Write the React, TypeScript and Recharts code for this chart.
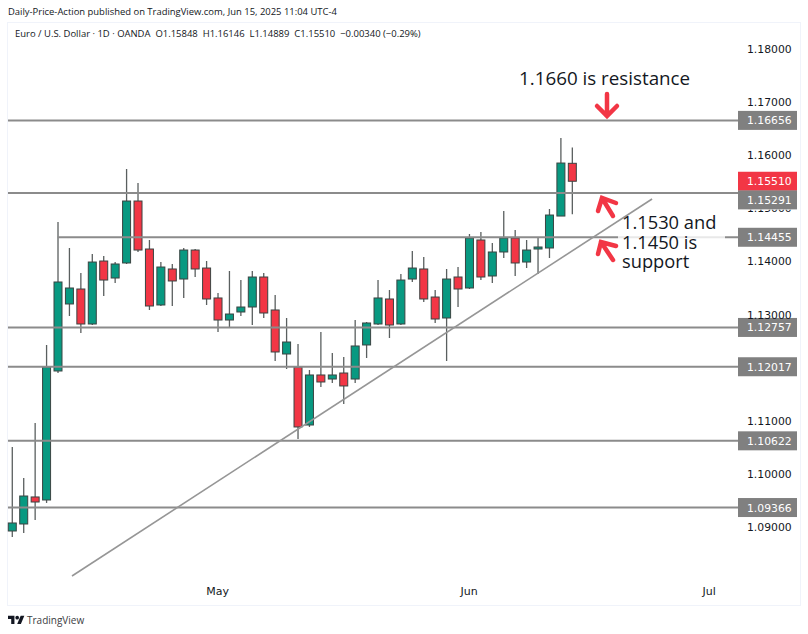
import { ComposedChart, Bar, XAxis, YAxis, ReferenceLine } from 'recharts';

const opens = [1.08924, 1.09056, 1.09565, 1.09508, 1.11937, 1.13199, 1.13481, 1.12822, 1.14008, 1.13688, 1.13971, 1.15138, 1.14234, 1.1318, 1.13858, 1.13669, 1.14215, 1.13876, 1.13312, 1.12897, 1.13048, 1.13142, 1.13707, 1.13086, 1.12257, 1.12012, 1.1092, 1.11862, 1.11786, 1.11899, 1.11786, 1.12427, 1.12822, 1.13293, 1.12822, 1.13669, 1.13858, 1.1333, 1.12935, 1.13707, 1.135, 1.14404, 1.13726, 1.14178, 1.14441, 1.13989, 1.14234, 1.14253, 1.14855, 1.15848];
const highs = [1.10506, 1.09922, 1.10958, 1.12427, 1.14743, 1.14253, 1.13782, 1.1414, 1.14102, 1.13989, 1.15741, 1.15477, 1.14404, 1.13989, 1.13952, 1.14253, 1.14234, 1.14008, 1.13406, 1.1382, 1.1365, 1.1382, 1.13782, 1.13368, 1.12935, 1.12445, 1.11956, 1.12671, 1.12276, 1.12201, 1.12897, 1.1286, 1.1365, 1.13462, 1.13763, 1.14197, 1.14084, 1.13462, 1.13858, 1.13895, 1.14517, 1.14554, 1.14347, 1.1495, 1.14592, 1.14404, 1.1446, 1.14987, 1.16324, 1.16146];
const lows = [1.08811, 1.08887, 1.09132, 1.09452, 1.11899, 1.12973, 1.12653, 1.12803, 1.13349, 1.13594, 1.13952, 1.14178, 1.13086, 1.13161, 1.13161, 1.13312, 1.13707, 1.1318, 1.12671, 1.12766, 1.12973, 1.12803, 1.12935, 1.12125, 1.11975, 1.10657, 1.10883, 1.11636, 1.11711, 1.11316, 1.11711, 1.12182, 1.12803, 1.12558, 1.12803, 1.13613, 1.13236, 1.12841, 1.12125, 1.13142, 1.13481, 1.1365, 1.13594, 1.14065, 1.13726, 1.13876, 1.13763, 1.14065, 1.14855, 1.14889];
const closes = [1.09075, 1.09583, 1.0947, 1.12012, 1.13613, 1.135, 1.12822, 1.13989, 1.1365, 1.13952, 1.15138, 1.14215, 1.13161, 1.13895, 1.13632, 1.14215, 1.13858, 1.13293, 1.12897, 1.1301, 1.13142, 1.13707, 1.13029, 1.12295, 1.12483, 1.10883, 1.11862, 1.1173, 1.11862, 1.11655, 1.12408, 1.12841, 1.13312, 1.12803, 1.1365, 1.13876, 1.13293, 1.12916, 1.13669, 1.13481, 1.14441, 1.13707, 1.14178, 1.14441, 1.13971, 1.14215, 1.14272, 1.14874, 1.15853, 1.1551];

// 1.12 sits fully behind its price tag in the picture, so it is left out
const priceTicks = [1.09, 1.1, 1.11, 1.13, 1.14, 1.15, 1.16, 1.17, 1.18];
const monthTicks = [18, 40, 61];
const monthLabels = ['May', 'Jun', 'Jul'];
const levels = [1.16656, 1.12757, 1.12017, 1.10622, 1.09366];

const lastClose = 1.1551;
const level1529 = 1.15291;
const level1445 = 1.14455;
const trendStart = { x: 5.25, y: 1.08077 };
const trendEnd = { x: 56, y: 1.15176 };

const rows = opens.map((open, i) => ({
  idx: i,
  open,
  high: highs[i],
  low: lows[i],
  close: closes[i],
  range: [lows[i], highs[i]],
}));

const GREEN = '#089981';
const RED = '#f23645';
const LEVEL = '#8b8b8b';
const FONT = '"DejaVu Sans", sans-serif';
const NOTE_FONT = '"Open Sans", sans-serif';

const Candle = (props: any) => {
  const { x, y, width, height, payload } = props;
  const k = height / (payload.high - payload.low);
  const up = payload.close >= payload.open;
  const top = y + (payload.high - Math.max(payload.open, payload.close)) * k;
  const bottom = y + (payload.high - Math.min(payload.open, payload.close)) * k;
  const mid = x + width / 2;
  return (
    <g>
      <line x1={mid} x2={mid} y1={y} y2={y + height} stroke="#5a5f5f" strokeWidth={1.3} />
      <rect
        x={x}
        y={top}
        width={width}
        height={Math.max(bottom - top, 1)}
        fill={up ? GREEN : RED}
        stroke="#3a4442"
        strokeWidth={1}
      />
    </g>
  );
};

// 1.15000 peeks out under the 1.15291 tag, only its lower edge shows
const PriceTick = (props: any) => {
  const { x, y, payload } = props;
  const hidden = payload.value === 1.15;
  return (
    <g>
      {hidden && (
        <clipPath id="under-tag">
          <rect x={x - 2} y={y + 1.5} width={60} height={12} />
        </clipPath>
      )}
      <text
        x={x}
        y={y + 4}
        fill="#131722"
        fontSize={10.8}
        fontFamily={FONT}
        clipPath={hidden ? 'url(#under-tag)' : undefined}
      >
        {payload.value.toFixed(5)}
      </text>
    </g>
  );
};

// price tag on the axis, dy pushes it off a neighbouring tag
const tag = (text: string, fill: string, dy = 0) => (props: any) => {
  const { viewBox } = props;
  const right = viewBox.x + viewBox.width;
  const cy = viewBox.y + dy;
  return (
    <g>
      <rect x={right} y={cy - 9.5} width={59} height={19} fill={fill} />
      <text x={right + 9} y={cy + 4} fill="#fff" fontSize={10.8} fontFamily={FONT}>
        {text}
      </text>
    </g>
  );
};

const Arrow = ({ d }: { d: string }) => (
  <path d={d} fill="none" stroke={RED} strokeWidth={4.5} strokeLinecap="round" strokeLinejoin="miter" />
);

export default function App() {
  return (
    <div style={{ position: 'absolute', left: 0, top: 0, width: 808, height: 634, background: '#fff', overflow: 'hidden', fontFamily: FONT }}>
      <div style={{ position: 'absolute', left: 7, top: 22, width: 792, height: 582, border: '1px solid #f0f3fa' }} />
      <div style={{ position: 'absolute', left: 8, top: 5, fontSize: 9.45, color: '#131722', fontFamily: NOTE_FONT, whiteSpace: 'nowrap' }}>
        Daily-Price-Action published on TradingView.com, Jun 15, 2025 11:04 UTC-4
      </div>
      <div style={{ position: 'absolute', left: 15, top: 27, fontSize: 9.47, color: '#131722', fontFamily: NOTE_FONT, whiteSpace: 'nowrap' }}>
        Euro / U.S. Dollar · 1D · OANDA&nbsp; O1.15848&nbsp; H1.16146&nbsp; L1.14889&nbsp; C1.15510&nbsp; −0.00340 (−0.29%)
      </div>

      <ComposedChart
        width={808}
        height={634}
        data={rows}
        margin={{ top: 23, right: 8, bottom: 30, left: 8 }}
      >
        <XAxis
          dataKey="idx"
          type="number"
          domain={[-0.35, 63.52]}
          ticks={monthTicks}
          tickFormatter={(v: number) => monthLabels[monthTicks.indexOf(v)]}
          axisLine={false}
          tickLine={false}
          tickSize={0}
          tickMargin={9}
          height={26}
          tick={{ fill: '#131722', fontSize: 11, fontFamily: FONT }}
        />
        <YAxis
          orientation="right"
          domain={[1.08039, 1.1849]}
          ticks={priceTicks}
          axisLine={false}
          tickLine={false}
          tickSize={0}
          tickMargin={9}
          width={62}
          tick={PriceTick}
        />
        <Bar dataKey="range" barSize={8} shape={Candle} isAnimationActive={false} />

        {levels.map((v) => (
          <ReferenceLine key={v} y={v} stroke={LEVEL} strokeWidth={2} label={tag(v.toFixed(5), '#808080')} />
        ))}
        <ReferenceLine y={lastClose} stroke="none" label={tag(lastClose.toFixed(5), RED)} />
        <ReferenceLine y={level1529} stroke={LEVEL} strokeWidth={2} label={tag(level1529.toFixed(5), '#808080', 7)} />
        <ReferenceLine
          segment={[{ x: 4, y: level1445 }, { x: 63.52, y: level1445 }]}
          stroke={LEVEL}
          strokeWidth={2}
          label={tag(level1445.toFixed(5), '#808080')}
        />
        <ReferenceLine
          segment={[trendStart, trendEnd]}
          stroke="#969696"
          strokeWidth={1.6}
          ifOverflow="visible"
        />
      </ComposedChart>

      <div style={{ position: 'absolute', left: 618, top: 228, width: 107, height: 42, background: 'rgba(255,255,255,0.8)' }} />
      <div style={{ position: 'absolute', left: 519, top: 65, fontSize: 18.8, lineHeight: '26px', color: '#131722', fontFamily: NOTE_FONT, whiteSpace: 'nowrap' }}>
        1.1660 is resistance
      </div>
      <div style={{ position: 'absolute', left: 622, top: 212, fontSize: 18.3, lineHeight: '19.6px', color: '#131722', fontFamily: NOTE_FONT, whiteSpace: 'nowrap' }}>
        1.1530 and
        <br />
        1.1450 is
        <br />
        support
      </div>

      <svg width={808} height={634} style={{ position: 'absolute', left: 0, top: 0, pointerEvents: 'none' }}>
        <Arrow d="M607 94V116M597 106L607 116L617 106" />
        <Arrow d="M613 216L602 198M598 211L602 198L616 203" />
        <Arrow d="M613 260L601 242M598 254L601 242L616 246" />
        <g transform="translate(8,614) scale(0.46)" fill="#131722">
          <path d="M14 22H7V11H0V4h14v18zM28 22h-8l7.5-18h8L28 22z" />
          <circle cx={20} cy={8} r={4} />
        </g>
      </svg>
      <div style={{ position: 'absolute', left: 27, top: 613, fontSize: 10, color: '#3c4043', fontFamily: NOTE_FONT, whiteSpace: 'nowrap' }}>
        TradingView
      </div>
    </div>
  );
}
